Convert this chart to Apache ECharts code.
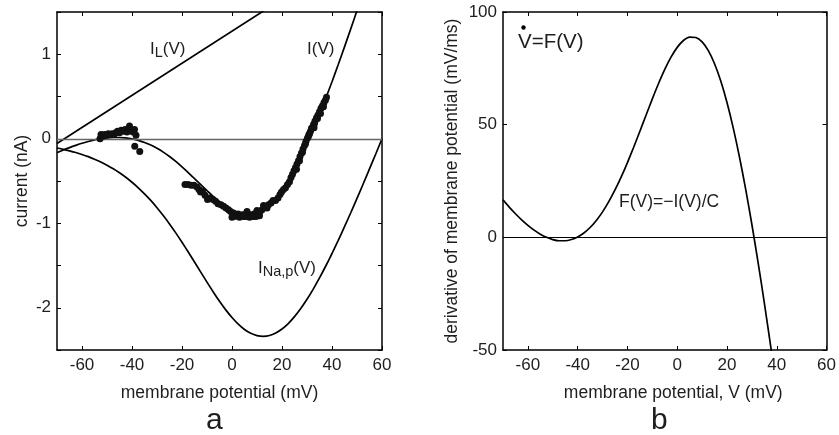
<!DOCTYPE html>
<html><head><meta charset="utf-8">
<script src="https://cdn.jsdelivr.net/npm/echarts/dist/echarts.min.js"></script>
<style>html,body{margin:0;padding:0;background:#fff}#c{width:839px;height:435px}</style>
</head><body><div id="c"></div>
<script>
// membrane potential samples (mV), -70 .. 60
const vSamples = [-70,-67.5,-65,-62.5,-60,-57.5,-55,-52.5,-50,-47.5,-45,-42.5,-40,-37.5,-35,-32.5,-30,-27.5,-25,-22.5,-20,-17.5,-15,-12.5,-10,-7.5,-5,-2.5,0,2.5,5,7.5,10,12.5,15,17.5,20,22.5,25,27.5,30,32.5,35,37.5,40,42.5,45,47.5,50,52.5,55,57.5,60];
// persistent Na+ current I_Na,p(V) (nA)
const iNaP = [-0.109,-0.125,-0.143,-0.163,-0.186,-0.212,-0.242,-0.275,-0.313,-0.355,-0.403,-0.456,-0.515,-0.580,-0.652,-0.730,-0.816,-0.909,-1.008,-1.114,-1.225,-1.340,-1.459,-1.578,-1.697,-1.813,-1.923,-2.025,-2.116,-2.194,-2.257,-2.303,-2.330,-2.339,-2.329,-2.299,-2.252,-2.187,-2.105,-2.009,-1.900,-1.779,-1.647,-1.506,-1.358,-1.202,-1.041,-0.876,-0.706,-0.533,-0.357,-0.180,0.000];
// total current I(V) (nA)
const iTotal = [-0.166,-0.134,-0.105,-0.078,-0.053,-0.032,-0.014,0.000,0.010,0.015,0.015,0.010,-0.002,-0.019,-0.044,-0.075,-0.113,-0.158,-0.210,-0.268,-0.332,-0.400,-0.471,-0.543,-0.614,-0.683,-0.745,-0.799,-0.843,-0.873,-0.889,-0.887,-0.867,-0.828,-0.771,-0.694,-0.599,-0.486,-0.357,-0.214,-0.057,0.112,0.291,0.479,0.675,0.878,1.087,1.300,1.517,1.738,1.961,2.186,2.413];
// leak current I_L(V) (nA), straight line
const leakV = [-70, 60];
const iLeak = [-0.057, 2.413];
// measured I-V points
const dotV = [-52.8,-52.4,-51.6,-51,-50.2,-49.5,-48.7,-48,-47.2,-46.5,-45.8,-45,-44.3,-43.5,-42.8,-42,-41.3,-41,-40.3,-39.6,-39,-38.4,-38.9,-36.9,
  -18.8,-17.6,-16.4,-15.2,-14,-13.2,-12.6,-11.8,-10.8,-9.8,-8.9,-7.6,-6.6,-5.6,-4.4,-3.4,-2.4,-1.4,-0.6,0,0.6,1.5,2.4,3.2,4,4.8,5.6,6.4,7.2,8,8.8,9.6,10.4,11.2,12,12.6,13.6,14.6,15.6,16.4,17.4,18.4,19.2,19.8,20.6,21.4,22.2,23,23.6,24.2,24.8,25.4,26,26.6,27.2,27.8,28.4,29,29.6,30.2,30.8,31.4,32,32.6,33.2,33.8,34.4,35,35.6,36.2,36.8,37.4,37.8,
  25.8,27,28.2,29.4,30.6,31.8,33,34.2,35.4,36.6,32.8,31,1,3,5,7,9,11,6,10,14];
const dotI = [0.00,0.05,0.03,0.05,0.04,0.06,0.05,0.06,0.05,0.07,0.09,0.07,0.10,0.09,0.11,0.08,0.12,0.15,0.10,0.08,0.11,0.04,-0.09,-0.15,
  -0.54,-0.54,-0.55,-0.55,-0.57,-0.60,-0.63,-0.62,-0.67,-0.72,-0.70,-0.72,-0.74,-0.77,-0.78,-0.80,-0.82,-0.84,-0.86,-0.93,-0.88,-0.90,-0.89,-0.92,-0.90,-0.92,-0.89,-0.92,-0.90,-0.92,-0.89,-0.92,-0.88,-0.86,-0.84,-0.79,-0.81,-0.78,-0.76,-0.73,-0.73,-0.70,-0.66,-0.63,-0.60,-0.58,-0.54,-0.51,-0.46,-0.42,-0.38,-0.34,-0.30,-0.26,-0.21,-0.17,-0.12,-0.08,-0.03,0.01,0.05,0.09,0.13,0.17,0.21,0.25,0.28,0.32,0.36,0.39,0.43,0.46,0.49,
  -0.36,-0.26,-0.16,-0.06,0.03,0.12,0.18,0.24,0.30,0.38,0.13,0.06,-0.92,-0.93,-0.92,-0.93,-0.92,-0.91,-0.86,-0.85,-0.82];
// F(V) = -I(V)/C (mV/ms), V from -70 to 42.5
const fV = [-70,-67.5,-65,-62.5,-60,-57.5,-55,-52.5,-50,-47.5,-45,-42.5,-40,-37.5,-35,-32.5,-30,-27.5,-25,-22.5,-20,-17.5,-15,-12.5,-10,-7.5,-5,-2.5,0,2.5,5,7.5,10,12.5,15,17.5,20,22.5,25,27.5,30,32.5,35,37.5,40,42.5];
const fVals = [16.60,13.43,10.47,7.76,5.32,3.19,1.40,0.00,-0.99,-1.51,-1.52,-0.97,0.16,1.93,4.36,7.48,11.30,15.82,21.01,26.82,33.18,39.98,47.08,54.30,61.43,68.25,74.51,79.94,84.30,87.35,88.87,88.70,86.72,82.84,77.05,69.37,59.85,48.60,35.73,21.38,5.70,-11.18,-29.09,-47.93,-67.54,-87.82];
const xTicks = [-60,-40,-20,0,20,40,60];

const zip = (a,b) => a.map((x,i)=>[x,b[i]]);
const FONT = 'Liberation Sans';
const TXT = '#1e1e1e';

function xAx(grid, bottom, name, pad) {
  return {
    type:'value', gridIndex:grid, position: bottom?'bottom':'top', min:-70, max:60,
    axisLine:{show:true, onZero:false, lineStyle:{color:'#000', width:1.5}},
    axisTick:{show:true, inside:true, length:4, customValues:xTicks, lineStyle:{color:'#000'}},
    axisLabel:{show:bottom, customValues:xTicks, color:TXT, fontSize:17, fontFamily:FONT, margin:7},
    splitLine:{show:false},
    name: bottom?name:'', nameLocation:'middle', nameGap:34,
    nameTextStyle:{color:TXT, fontSize:17.5, fontFamily:FONT, padding:pad||0}
  };
}
function yAx(grid, left, min, max, interval, name, gap, fmt) {
  return {
    type:'value', gridIndex:grid, position: left?'left':'right', min, max, interval,
    axisLine:{show:true, onZero:false, lineStyle:{color:'#000', width:1.5}},
    axisTick:{show:true, inside:true, length:4, lineStyle:{color:'#000'}},
    axisLabel:{show:left, color:TXT, fontSize:17, fontFamily:FONT, margin:6, formatter:fmt},
    splitLine:{show:false},
    name: left?name:'', nameLocation:'middle', nameGap:gap,
    nameTextStyle:{color:TXT, fontSize:17.5, fontFamily:FONT}
  };
}
const intFmt = v => Math.abs(v-Math.round(v))<1e-9 ? String(Math.round(v)) : '';
const line = (xi, yi, data) => ({type:'line', xAxisIndex:xi, yAxisIndex:yi, data, showSymbol:false, symbol:'none', smooth:0.25, lineStyle:{color:'#000', width:1.7}, z:3, silent:true});
const subRich = {s:{fontSize:14.5, fontFamily:FONT, fill:TXT, padding:[7,0,0,0]}};

const chart = echarts.init(document.getElementById('c'), null, {renderer:'canvas'});
chart.setOption({
  animation:false,
  backgroundColor:'#fff',
  grid:[{left:57, top:12, width:325, height:338}, {left:503, top:12, width:325, height:338}],
  xAxis:[xAx(0,true,'membrane potential (mV)'), xAx(0,false), xAx(1,true,'membrane potential, V (mV)',[0,0,0,17]), xAx(1,false)],
  yAxis:[yAx(0,true,-2.5,1.5,0.5,'current (nA)',26,intFmt), yAx(0,false,-2.5,1.5,0.5), yAx(1,true,-50,100,50,'derivative of membrane potential (mV/ms)',42), yAx(1,false,-50,100,50)],
  series:[
    Object.assign(line(0,0,zip(leakV,iLeak)), {smooth:false,
      markLine:{silent:true, symbol:'none', label:{show:false}, lineStyle:{color:'#666', width:1.3, type:'solid'}, data:[{yAxis:0}]}}),
    line(0,0,zip(vSamples,iNaP)),
    line(0,0,zip(vSamples,iTotal)),
    {type:'scatter', xAxisIndex:0, yAxisIndex:0, data:zip(dotV,dotI), symbolSize:7, itemStyle:{color:'#111', opacity:1}, z:5, silent:true},
    Object.assign(line(2,2,zip(fV,fVals)), {
      markLine:{silent:true, symbol:'none', label:{show:false}, lineStyle:{color:'#000', width:1, type:'solid'}, data:[{yAxis:0}]}})
  ],
  graphic:[
    {type:'text', left:150, top:41, style:{text:'I{s|L}(V)', fill:TXT, font:'17px "Liberation Sans"', rich:subRich}},
    {type:'text', left:307, top:41, style:{text:'I(V)', fill:TXT, font:'17px "Liberation Sans"'}},
    {type:'text', left:258, top:260, style:{text:'I{s|Na,p}(V)', fill:TXT, font:'17px "Liberation Sans"', rich:subRich}},
    {type:'text', left:518, top:32, style:{text:'V=F(V)', fill:TXT, font:'20.5px "Liberation Sans"'}},
    {type:'circle', shape:{cx:523.5, cy:27.5, r:2.2}, style:{fill:'#000'}},
    {type:'text', left:619, top:193, style:{text:'F(V)=\u2212I(V)/C', fill:TXT, font:'17.5px "Liberation Sans"'}},
    {type:'text', left:206, top:406, style:{text:'a', fill:TXT, font:'30px "Liberation Sans"'}},
    {type:'text', left:651, top:406, style:{text:'b', fill:TXT, font:'30px "Liberation Sans"'}}
  ]
});
</script></body></html>
